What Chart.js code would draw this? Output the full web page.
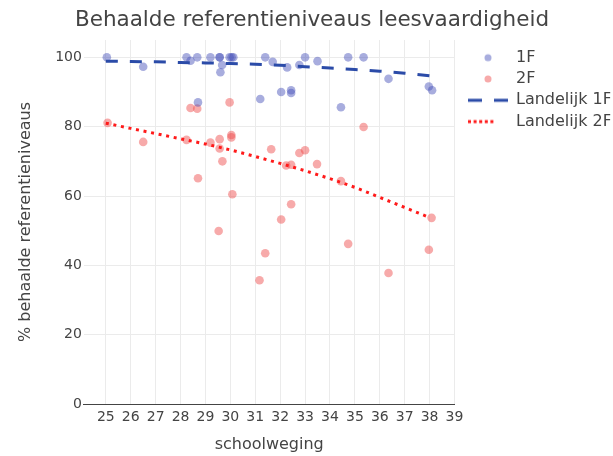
<!DOCTYPE html>
<html>
<head>
<meta charset="utf-8">
<script src="https://cdn.jsdelivr.net/npm/chart.js@4/dist/chart.umd.min.js"></script>
<style>
  html, body { margin: 0; padding: 0; background: #fff; }
  #wrap { width: 613px; height: 456px; }
</style>
</head>
<body>
<div id="wrap"><canvas id="c" width="613" height="456"></canvas></div>
<script>
// ---- data ----
const title = 'Behaalde referentieniveaus leesvaardigheid';
const xTitle = 'schoolweging';
const yTitle = '% behaalde referentieniveaus';
const seriesNames = ['1F', '2F', 'Landelijk 1F', 'Landelijk 2F'];

const x1F = [25.04, 26.5, 28.24, 28.4, 28.67, 29.2, 29.57, 29.57, 29.67, 29.6, 29.97, 30.05, 30.12,
             28.7, 31.2, 31.4, 31.7, 32.28, 32.77, 33.0, 33.5, 34.73, 35.35, 36.35, 37.97, 38.1,
             32.04, 32.44, 32.44, 34.44];
const y1F = [100, 97.3, 100, 99.0, 100, 100, 100, 100, 97.8, 95.7, 100, 100, 100,
             87.0, 88.0, 100, 98.7, 97.1, 97.8, 100, 98.9, 100, 100, 93.8, 91.6, 90.5,
             90.0, 90.5, 89.7, 85.6];

const x2F = [25.07, 26.5, 28.4, 28.67, 29.97, 28.24, 29.2, 29.57, 30.04, 30.04, 29.57, 29.68,
             31.64, 35.35, 32.77, 33.0, 33.48, 32.24, 32.44, 28.7, 30.08, 29.53, 31.4, 31.17,
             34.44, 38.08, 32.44, 32.04, 34.73, 36.35, 37.97];
const y2F = [81.1, 75.6, 85.4, 85.2, 87.0, 76.2, 75.4, 76.4, 77.6, 76.9, 73.7, 70.0,
             73.5, 79.9, 72.4, 73.2, 69.2, 68.8, 69.0, 65.1, 60.5, 49.9, 43.5, 35.7,
             64.3, 53.7, 57.6, 53.2, 46.2, 37.8, 44.5];

const xLand = [25, 26, 27, 28, 29, 30, 31, 32, 33, 34, 35, 36, 37, 38];
const yLand1F = [98.9, 98.8, 98.7, 98.5, 98.4, 98.2, 98.0, 97.7, 97.3, 96.9, 96.5, 96.0, 95.4, 94.7];
const yLand2F = [81.0, 79.5, 78.0, 76.5, 75.0, 73.3, 71.4, 69.4, 67.3, 65.0, 62.5, 59.6, 56.7, 53.8];

const xTicks = [25, 26, 27, 28, 29, 30, 31, 32, 33, 34, 35, 36, 37, 38, 39];
const yTicks = [0, 20, 40, 60, 80, 100];

// ---- styling ----
const TEXT = '#444';
const BLUE_PT = 'rgba(70,80,185,0.47)';
const RED_PT = 'rgba(238,75,75,0.47)';
const BLUE_LINE = '#2b4ba8';
const RED_LINE = '#ff1a1a';
const LEG_PAD = 5.3;

function pts(xs, ys) { return xs.map((x, i) => ({ x: x, y: ys[i] })); }

function sample(kind, color) {
  const c = document.createElement('canvas');
  c.width = 40; c.height = 10;
  const g = c.getContext('2d');
  if (kind === 'dot') {
    g.fillStyle = color;
    g.beginPath(); g.arc(20, 5, 3.5, 0, Math.PI * 2); g.fill();
  } else if (kind === 'dash') {
    g.strokeStyle = color; g.lineWidth = 3; g.setLineDash([14, 12]);
    g.beginPath(); g.moveTo(0, 5); g.lineTo(40, 5); g.stroke();
  } else {
    g.strokeStyle = color; g.lineWidth = 3; g.setLineDash([3, 2.6]);
    g.beginPath(); g.moveTo(0, 5); g.lineTo(27, 5); g.stroke();
  }
  return c;
}
const samples = [sample('dot', BLUE_PT), sample('dot', RED_PT), sample('dash', BLUE_LINE), sample('dot2', RED_LINE)];

// fine placement of the legend block and title after Chart.js layout
const placeBlocks = {
  id: 'placeBlocks',
  afterLayout(chart) {
    const lg = chart.legend;
    if (lg) {
      const dx = 468 - LEG_PAD - lg.left, dy = 44.4;
      lg.left += dx; lg.right += dx; lg.top += dy; lg.bottom += dy;
    }
    const tb = chart.titleBlock;
    if (tb) {
      const tx = 312 - (tb.left + tb.right) / 2;
      tb.left += tx; tb.right += tx;
    }
  }
};

Chart.defaults.font.family = '"DejaVu Sans", Verdana, sans-serif';
Chart.defaults.color = TEXT;

new Chart(document.getElementById('c'), {
  type: 'scatter',
  data: {
    datasets: [
      { label: seriesNames[0], data: pts(x1F, y1F), backgroundColor: BLUE_PT, borderWidth: 0, pointRadius: 4.3, order: 2 },
      { label: seriesNames[1], data: pts(x2F, y2F), backgroundColor: RED_PT, borderWidth: 0, pointRadius: 4.3, order: 2 },
      { type: 'line', label: seriesNames[2], data: pts(xLand, yLand1F), borderColor: BLUE_LINE, borderWidth: 3,
        borderDash: [12, 12], pointRadius: 0, fill: false, tension: 0, order: 1 },
      { type: 'line', label: seriesNames[3], data: pts(xLand, yLand2F), borderColor: RED_LINE, borderWidth: 3,
        borderDash: [3, 4.7], pointRadius: 0, fill: false, tension: 0, order: 1 }
    ]
  },
  options: {
    responsive: false,
    animation: false,
    devicePixelRatio: 1,
    layout: { padding: { left: 12, right: 11, top: 0, bottom: 0 } },
    plugins: {
      tooltip: { enabled: false },
      title: {
        display: true, text: title, color: TEXT,
        font: { size: 21.5, weight: 'normal' },
        padding: { top: 8, bottom: 6.2 }
      },
      legend: {
        position: 'right', align: 'start',
        labels: {
          usePointStyle: true, pointStyleWidth: 40, padding: LEG_PAD,
          font: { size: 16 }, color: TEXT,
          generateLabels: (chart) => chart.data.datasets.map((ds, i) => ({
            text: ds.label, pointStyle: samples[i], fillStyle: 'transparent',
            strokeStyle: 'transparent', lineWidth: 0, hidden: false, datasetIndex: i, fontColor: TEXT
          }))
        }
      }
    },
    scales: {
      x: {
        type: 'linear', min: 24.12, max: 39,
        afterBuildTicks: (s) => { s.ticks = xTicks.map(v => ({ value: v })); },
        grid: { color: '#ebebeb', lineWidth: 1, drawTicks: false },
        border: { display: true, color: '#444', width: 1 },
        ticks: { font: { size: 14 }, color: TEXT, padding: 5, maxRotation: 0, autoSkip: false },
        title: { display: true, text: xTitle, color: TEXT, font: { size: 16 }, padding: { top: 4.6, bottom: 1.4 } }
      },
      y: {
        type: 'linear', min: 0, max: 105,
        afterBuildTicks: (s) => { s.ticks = yTicks.map(v => ({ value: v })); },
        grid: { color: '#ebebeb', lineWidth: 1, drawTicks: false },
        border: { display: false },
        ticks: { font: { size: 14 }, color: TEXT, padding: 2 },
        title: { display: true, text: yTitle, color: TEXT, font: { size: 16 }, padding: { top: 4, bottom: 18 } }
      }
    }
  },
  plugins: [placeBlocks]
});
</script>
</body>
</html>
